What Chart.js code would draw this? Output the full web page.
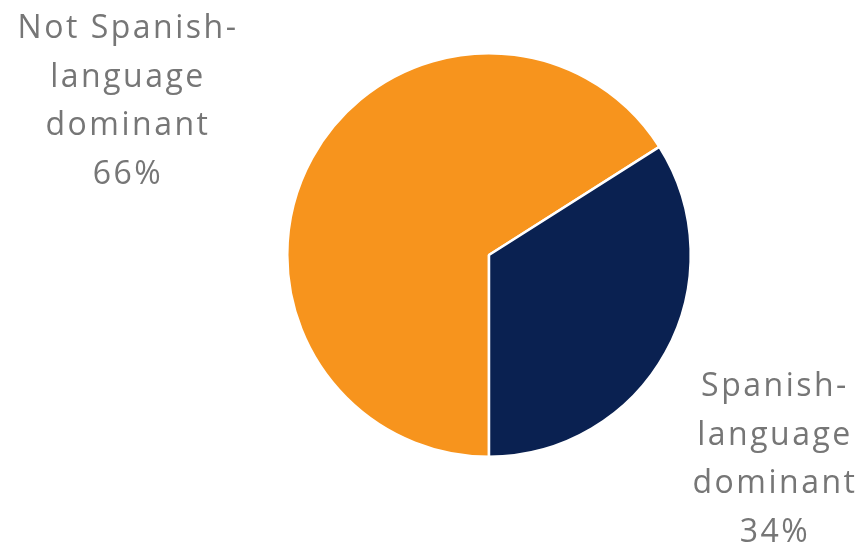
<!DOCTYPE html>
<html>
<head>
<meta charset="utf-8">
<script src="https://cdn.jsdelivr.net/npm/chart.js@4"></script>
<style>
  html, body { margin: 0; padding: 0; background: #ffffff; }
  #wrap { width: 866px; height: 546px; position: relative; }
</style>
</head>
<body>
<div id="wrap"><canvas id="langChart"></canvas></div>
<script>
// language dominance split
const categories = ['Not Spanish-language dominant', 'Spanish-language dominant'];
const labelLines = [['Not Spanish-', 'language', 'dominant'], ['Spanish-', 'language', 'dominant']];
const shares = [66, 34];
const sliceColors = ['#F7941D', '#0A2151'];

// where each callout block sits (center x, first line y)
const calloutPos = [
    { x: 128, y: 29 },
    { x: 775, y: 387 }
];

const calloutPlugin = {
    id: 'callouts',
    afterDraw(chart) {
        const ctx = chart.ctx;
        ctx.save();
        ctx.font = '32px "Open Sans", Lato, sans-serif';
        ctx.letterSpacing = '2.5px';
        ctx.fillStyle = '#767676';
        ctx.textAlign = 'center';
        ctx.textBaseline = 'middle';
        shares.forEach((v, i) => {
            const lines = labelLines[i].concat([v + '%']);
            lines.forEach((t, j) => {
                ctx.fillText(t, calloutPos[i].x, calloutPos[i].y + j * 48.5);
            });
        });
        ctx.restore();
    }
};

new Chart(document.getElementById('langChart').getContext('2d'), {
    type: 'pie',
    data: {
        labels: categories,
        datasets: [{
            data: shares,
            backgroundColor: sliceColors,
            borderColor: '#ffffff',
            borderWidth: 2.5
        }]
    },
    options: {
        responsive: true,
        maintainAspectRatio: false,
        animation: false,
        rotation: 180,
        layout: {
            padding: { left: 286, right: 174, top: 52, bottom: 88 }
        },
        plugins: {
            legend: { display: false },
            tooltip: { enabled: false }
        }
    },
    plugins: [calloutPlugin]
});
</script>
</body>
</html>
